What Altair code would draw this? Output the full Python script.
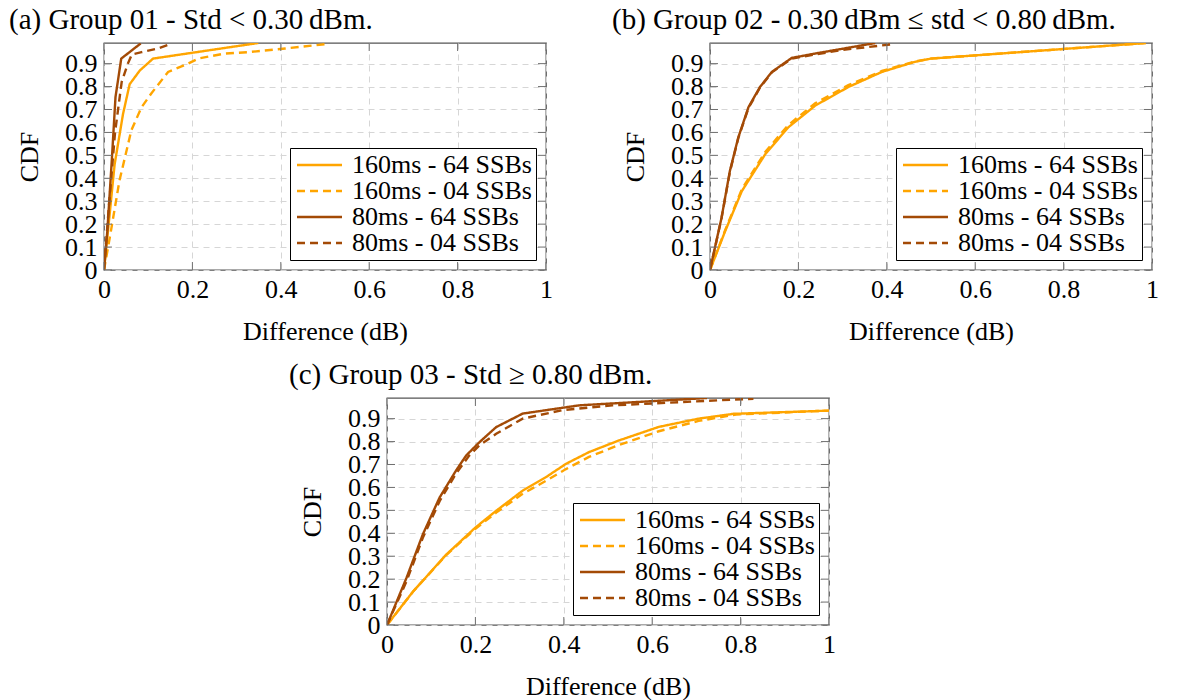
import altair as alt
import pandas as pd

# Series labels, colours and dash patterns (legend order)
SERIES = ["160ms - 64 SSBs", "160ms - 04 SSBs", "80ms - 64 SSBs", "80ms - 04 SSBs"]
COLORS = ["#FFA500", "#FFA500", "#A34A06", "#A34A06"]
DASHES = [[1, 0], [8, 5], [1, 0], [8, 5]]

X_TICKS = [0, 0.2, 0.4, 0.6, 0.8, 1.0]
Y_TICKS = [0, 0.1, 0.2, 0.3, 0.4, 0.5, 0.6, 0.7, 0.8, 0.9]

# ---- Group 01 ----
a_x_160_64 = [0, 0.009, 0.024, 0.043, 0.058, 0.081, 0.111, 0.349]
a_y_160_64 = [0, 0.17, 0.46, 0.68, 0.81, 0.87, 0.922, 0.99]
a_x_160_04 = [0, 0.013, 0.035, 0.062, 0.085, 0.107, 0.145, 0.19, 0.213, 0.273, 0.326, 0.41, 0.51]
a_y_160_04 = [0, 0.14, 0.39, 0.61, 0.71, 0.77, 0.864, 0.9, 0.922, 0.944, 0.95, 0.966, 0.987]
a_x_80_64 = [0, 0.0075, 0.018, 0.026, 0.039, 0.083]
a_y_80_64 = [0, 0.168, 0.49, 0.754, 0.922, 0.988]
a_x_80_04 = [0, 0.012, 0.025, 0.04, 0.054, 0.063, 0.085, 0.122, 0.153]
a_y_80_04 = [0, 0.3, 0.6, 0.82, 0.9, 0.94, 0.95, 0.966, 0.988]

# ---- Group 02 ----
b_x_160_64 = [0, 0.034, 0.072, 0.125, 0.177, 0.238, 0.313, 0.389, 0.464, 0.5, 0.986]
b_y_160_64 = [0, 0.168, 0.344, 0.505, 0.622, 0.717, 0.798, 0.864, 0.908, 0.922, 0.99]
b_x_160_04 = [0, 0.034, 0.072, 0.125, 0.177, 0.238, 0.313, 0.389, 0.464, 0.5, 0.986]
b_y_160_04 = [0, 0.172, 0.352, 0.515, 0.632, 0.727, 0.806, 0.868, 0.91, 0.922, 0.99]
b_x_80_64 = [0, 0.026, 0.045, 0.064, 0.087, 0.113, 0.14, 0.185, 0.238, 0.374]
b_y_80_64 = [0, 0.227, 0.432, 0.578, 0.71, 0.798, 0.864, 0.925, 0.944, 0.99]
b_x_80_04 = [0, 0.026, 0.045, 0.064, 0.087, 0.113, 0.14, 0.185, 0.238, 0.3, 0.415]
b_y_80_04 = [0, 0.225, 0.428, 0.575, 0.706, 0.795, 0.862, 0.922, 0.94, 0.96, 0.985]

# ---- Group 03 ----
c_x_160_64 = [0, 0.059, 0.134, 0.2, 0.247, 0.307, 0.359, 0.405, 0.457, 0.525, 0.615, 0.705, 0.784, 1.0]
c_y_160_64 = [0, 0.146, 0.307, 0.425, 0.498, 0.586, 0.644, 0.703, 0.754, 0.805, 0.864, 0.9, 0.921, 0.935]
c_x_160_04 = [0, 0.059, 0.134, 0.2, 0.247, 0.307, 0.359, 0.405, 0.457, 0.525, 0.615, 0.705, 0.79, 1.0]
c_y_160_04 = [0, 0.146, 0.305, 0.42, 0.49, 0.572, 0.628, 0.68, 0.733, 0.785, 0.845, 0.89, 0.918, 0.935]
c_x_80_64 = [0, 0.044, 0.081, 0.119, 0.156, 0.179, 0.209, 0.247, 0.307, 0.435, 0.724]
c_y_80_64 = [0, 0.205, 0.395, 0.556, 0.673, 0.739, 0.797, 0.863, 0.922, 0.958, 0.99]
c_x_80_04 = [0, 0.044, 0.081, 0.119, 0.156, 0.186, 0.209, 0.247, 0.307, 0.397, 0.51, 0.829]
c_y_80_04 = [0, 0.19, 0.38, 0.54, 0.66, 0.739, 0.783, 0.834, 0.9, 0.937, 0.958, 0.987]

W, H = 442, 227
TICK_LEN = 8
FONT = "Liberation Serif"
TICK_COLOR = "#6f6f6f"
FS = 26
# legend line sample: a 45 px stroke drawn from the entry's left edge
LEGEND_LINE = "M-1,0L3.5,0"


def panel(title_text, title_dx, curves):
    rows = []
    for name, (xs, ys) in zip(SERIES, curves):
        for i, (x, y) in enumerate(zip(xs, ys)):
            rows.append({"series": name, "diff": x, "cdf": y, "i": i})
    df = pd.DataFrame(rows)

    x_scale = alt.Scale(domain=[0, 1], nice=False, zero=False)
    y_scale = alt.Scale(domain=[0, 0.99], nice=False, zero=False)
    common = dict(labelFont=FONT, labelFontSize=FS, titleFont=FONT, titleFontSize=FS,
                  titleFontWeight="normal", labelColor="black", titleColor="black",
                  labelFlush=False, labelOverlap=False, domain=False, ticks=False,
                  grid=True, gridColor="#d6d6d6", gridDash=[6, 5], gridWidth=1)
    x_axis = alt.Axis(values=X_TICKS, format=".1~f", title="Difference (dB)",
                      labelPadding=6, titlePadding=16, **common)
    y_axis = alt.Axis(values=Y_TICKS, format=".1~f", title="CDF",
                      labelPadding=7, titlePadding=22, **common)
    legend = alt.Legend(title=None, orient="bottom-right", offset=10,
                        labelFont=FONT, labelFontSize=FS, labelLimit=400,
                        symbolType=LEGEND_LINE, symbolSize=400,
                        symbolStrokeWidth=2.4, labelOffset=32,
                        strokeColor="black", fillColor="white",
                        padding=4, rowPadding=-1)

    lines = alt.Chart(df).mark_line(strokeWidth=2.4, clip=True).encode(
        x=alt.X("diff:Q", scale=x_scale, axis=x_axis),
        y=alt.Y("cdf:Q", scale=y_scale, axis=y_axis),
        color=alt.Color("series:N", sort=SERIES,
                        scale=alt.Scale(domain=SERIES, range=COLORS),
                        legend=legend),
        strokeDash=alt.StrokeDash("series:N", sort=SERIES,
                                  scale=alt.Scale(domain=SERIES, range=DASHES),
                                  legend=legend),
        order="i:Q",
    )

    # inward tick marks on all four sides of the frame
    xt = pd.DataFrame({"diff": X_TICKS})
    yt = pd.DataFrame({"cdf": Y_TICKS})
    tick = dict(color=TICK_COLOR, strokeWidth=1)
    xenc = alt.X("diff:Q", scale=x_scale, axis=x_axis)
    yenc = alt.Y("cdf:Q", scale=y_scale, axis=y_axis)
    xb = alt.Chart(xt).mark_rule(**tick).encode(
        x=xenc, y=alt.value(H), y2=alt.value(H - TICK_LEN))
    xtop = alt.Chart(xt).mark_rule(**tick).encode(
        x=xenc, y=alt.value(0), y2=alt.value(TICK_LEN))
    yl = alt.Chart(yt).mark_rule(**tick).encode(
        y=yenc, x=alt.value(0), x2=alt.value(TICK_LEN))
    yr = alt.Chart(yt).mark_rule(**tick).encode(
        y=yenc, x=alt.value(W - TICK_LEN), x2=alt.value(W))

    return alt.layer(lines, xb, xtop, yl, yr).properties(
        width=W, height=H,
        title=alt.TitleParams(title_text, anchor="start", frame="group", dx=title_dx,
                              font=FONT, fontSize=29, fontWeight="normal",
                              color="black", offset=8),
    )


chart_a = panel("(a) Group 01 - Std < 0.30\u2009dBm.", -95, [
    (a_x_160_64, a_y_160_64), (a_x_160_04, a_y_160_04),
    (a_x_80_64, a_y_80_64), (a_x_80_04, a_y_80_04)])
chart_b = panel("(b) Group 02 - 0.30\u2009dBm \u2264 std < 0.80\u2009dBm.", -98, [
    (b_x_160_64, b_y_160_64), (b_x_160_04, b_y_160_04),
    (b_x_80_64, b_y_80_64), (b_x_80_04, b_y_80_04)])
chart_c = panel("(c) Group 03 - Std \u2265 0.80\u2009dBm.", -98, [
    (c_x_160_64, c_y_160_64), (c_x_160_04, c_y_160_04),
    (c_x_80_64, c_y_80_64), (c_x_80_04, c_y_80_04)])

# empty, invisible block that indents the bottom panel
spacer = alt.Chart(pd.DataFrame({"v": [0]})).mark_point(opacity=0).properties(
    width=183, height=10, view=alt.ViewBackground(stroke="transparent"))

indep = dict(color="independent", strokeDash="independent")
top = alt.hconcat(chart_a, chart_b, spacing=57).resolve_legend(**indep)
bottom = alt.hconcat(spacer, chart_c, spacing=0).resolve_legend(**indep)

chart = alt.vconcat(top, bottom, spacing=14).resolve_legend(**indep).properties(
    padding={"left": 8, "top": 4, "right": 5, "bottom": 2},
).configure(
    font=FONT,
).configure_view(
    stroke="#555555", strokeWidth=1.3,
)

chart.save("out.html", embed_options={"renderer": "svg", "actions": False})
